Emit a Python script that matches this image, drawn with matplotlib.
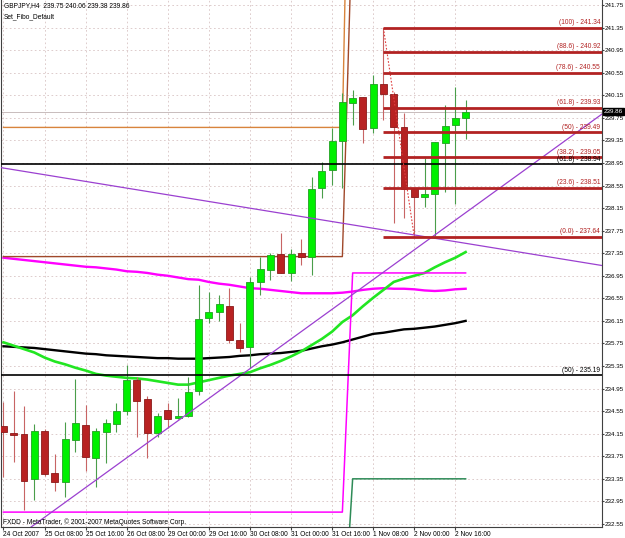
import numpy as np
import matplotlib.pyplot as plt
from matplotlib.patches import Rectangle
import matplotlib.transforms as mtransforms

plt.rcParams['font.family'] = ['Liberation Sans', 'DejaVu Sans']
plt.rcParams['font.size'] = 4.8

# GBPJPY H4 bars, 24 Oct - 2 Nov 2007
opens = [234.29, 234.16, 234.15, 233.35, 234.20, 233.45, 233.29, 234.04, 234.30, 233.72,
         234.18, 234.32, 234.55, 235.10, 234.77, 234.16, 234.57, 234.43, 234.46, 234.91,
         236.20, 236.31, 236.41, 235.81, 235.69, 236.84, 237.05, 237.34, 237.00, 237.35,
         237.28, 238.51, 238.83, 239.34, 240.01, 240.12, 239.57, 240.35, 240.17, 239.59,
         238.49, 238.35, 238.40, 239.30, 239.62, 239.75]
highs = [234.71, 234.91, 234.64, 234.32, 234.23, 233.79, 234.36, 235.12, 234.66, 234.25,
         234.41, 234.70, 235.37, 235.16, 234.82, 234.52, 234.70, 234.78, 235.16, 236.79,
         236.66, 236.61, 236.73, 236.11, 236.93, 237.28, 237.35, 237.71, 237.43, 237.60,
         238.70, 238.97, 239.57, 240.19, 240.24, 240.12, 240.51, 241.34, 240.20, 239.84,
         238.49, 239.04, 239.32, 239.98, 240.30, 240.06]
lows = [233.38, 233.65, 232.80, 232.98, 233.40, 233.13, 233.03, 233.83, 233.49, 233.21,
        233.63, 234.18, 234.48, 234.09, 233.72, 234.09, 234.25, 234.41, 234.45, 234.84,
        236.11, 236.15, 235.76, 235.60, 235.32, 236.61, 236.88, 237.00, 236.86, 237.14,
        236.96, 238.33, 238.56, 238.51, 239.62, 239.30, 239.48, 239.71, 237.89, 237.97,
        237.64, 238.17, 237.66, 238.44, 238.22, 239.38]
closes = [234.18, 234.13, 233.31, 234.20, 233.44, 233.29, 234.06, 234.34, 233.74, 234.20,
          234.34, 234.55, 235.10, 234.73, 234.16, 234.46, 234.41, 234.46, 234.89, 236.18,
          236.31, 236.45, 235.81, 235.67, 236.84, 237.07, 237.32, 237.00, 237.34, 237.28,
          238.49, 238.81, 239.34, 240.03, 240.10, 239.55, 240.35, 240.17, 239.59, 238.49,
          238.35, 238.40, 239.32, 239.61, 239.75, 239.86]

# moving averages
ma_green = [235.77, 235.71, 235.65, 235.59, 235.50, 235.43, 235.38, 235.32, 235.27, 235.21,
            235.18, 235.16, 235.14, 235.13, 235.11, 235.08, 235.05, 235.02, 235.02, 235.06,
            235.10, 235.14, 235.18, 235.21, 235.24, 235.31, 235.37, 235.44, 235.52, 235.61,
            235.72, 235.83, 235.96, 236.13, 236.25, 236.41, 236.56, 236.70, 236.84, 236.90,
            236.95, 237.00, 237.10, 237.19, 237.27, 237.37]
ma_black = [235.70, 235.69, 235.68, 235.67, 235.65, 235.63, 235.61, 235.59, 235.57, 235.56,
            235.54, 235.53, 235.52, 235.51, 235.50, 235.49, 235.49, 235.48, 235.48, 235.48,
            235.49, 235.50, 235.51, 235.53, 235.54, 235.56, 235.57, 235.58, 235.60, 235.62,
            235.66, 235.70, 235.73, 235.77, 235.82, 235.87, 235.92, 235.94, 235.97, 236.00,
            236.01, 236.03, 236.05, 236.08, 236.11, 236.15]
ma_magenta = [237.27, 237.25, 237.23, 237.21, 237.19, 237.17, 237.15, 237.13, 237.11, 237.10,
              237.08, 237.06, 237.03, 237.02, 237.00, 236.97, 236.95, 236.92, 236.89, 236.88,
              236.84, 236.81, 236.79, 236.76, 236.73, 236.72, 236.70, 236.68, 236.66, 236.64,
              236.64, 236.64, 236.64, 236.65, 236.67, 236.70, 236.72, 236.73, 236.72, 236.72,
              236.71, 236.69, 236.68, 236.69, 236.71, 236.72]

# step indicators (value changes after bar 33)
step_orange = [239.58] * 34 + [248.60] * 12
step_brown = [237.29] * 34 + [243.45] * 12
step_magenta = [232.76] * 34 + [237.00] * 12
step_green = [np.nan] * 33 + [230.40] + [233.35] * 12

time_labels = ["24 Oct 2007", "25 Oct 08:00", "25 Oct 16:00", "26 Oct 08:00", "29 Oct 00:00",
               "29 Oct 16:00", "30 Oct 08:00", "31 Oct 00:00", "31 Oct 16:00", "1 Nov 08:00",
               "2 Nov 00:00", "2 Nov 16:00"]
time_label_bars = [0, 4, 8, 12, 16, 20, 24, 28, 32, 36, 40, 44]

price_ticks = [241.75, 241.35, 240.95, 240.55, 240.15, 239.75, 239.35, 238.95, 238.55, 238.15,
               237.75, 237.35, 236.95, 236.55, 236.15, 235.75, 235.35, 234.95, 234.55, 234.15,
               233.75, 233.35, 232.95, 232.55]

fibo_levels = ["100", "88.6", "78.6", "61.8", "50", "38.2", "23.6", "0.0"]
fibo_prices = [241.34, 240.92, 240.55, 239.93, 239.49, 239.05, 238.51, 237.64]
fibo_high_bar = 37
fibo_low_bar = 40

fibo2_levels = ["61.8", "50"]
fibo2_prices = [238.94, 235.19]

trend_down = [(0, 238.86), (58, 237.14)]
trend_up = [(5, 232.80), (58, 239.78)]

bid = 239.86

fig = plt.figure(figsize=(6.25, 5.38), dpi=100)
ax = fig.add_axes([1 / 625, 11 / 538, 601 / 625, 527 / 538])
ax.set_xlim(-0.24, 58.28)
ax.set_ylim(232.496, 241.839)

bars = np.arange(len(opens))

# indicators
ax.plot(bars, ma_magenta, color='#ff00ff', lw=1.7, zorder=2)
ax.plot(bars, ma_black, color='black', lw=1.7, zorder=2)
ax.plot(bars, ma_green, color='#22e622', lw=1.9, zorder=2)
ax.plot(bars, step_orange, color='#d8843c', lw=1.0, zorder=2)
ax.plot(bars, step_brown, color='#a0482a', lw=1.0, zorder=2)
ax.plot(bars, step_magenta, color='#ff00ff', lw=1.1, zorder=2)
ax.plot(bars, step_green, color='#2e8b57', lw=1.1, zorder=2)

# candles
for i in bars:
    o, h, l, c = opens[i], highs[i], lows[i], closes[i]
    if c >= o:
        face, edge, wick = '#00f000', '#22a022', '#4a9e4a'
    else:
        face, edge, wick = '#b82222', '#8a1a1a', '#c86464'
    ax.vlines(i, l, h, color=wick, lw=0.8, zorder=3)
    ax.add_patch(Rectangle((i - 0.34, min(o, c)), 0.68, max(abs(c - o), 0.012),
                           facecolor=face, edgecolor=edge, lw=0.6, zorder=4))

# objects
ax.axhline(bid, color='#c8bcbc', lw=0.7, zorder=1.5)
ax.axline(trend_down[0], trend_down[1], color='#9b40d0', lw=0.9, zorder=5)
ax.axline(trend_up[0], trend_up[1], color='#9b40d0', lw=0.9, zorder=5)

lbl_tr = mtransforms.blended_transform_factory(ax.transAxes, ax.transData)
for lev, p in zip(fibo2_levels, fibo2_prices):
    ax.axhline(p, color='black', lw=1.2, zorder=5)
    ax.text(0.997, p + 0.015, f"({lev}) - {p:.2f}", transform=lbl_tr,
            ha='right', va='bottom', color='black', zorder=7)

ax.plot([fibo_high_bar, fibo_low_bar], [fibo_prices[0], fibo_prices[-1]],
        color='#e04040', lw=0.8, ls=(0, (1.5, 1.5)), zorder=5)
for lev, p in zip(fibo_levels, fibo_prices):
    ax.hlines(p, fibo_high_bar, 58.28, color='#b22222', lw=2.0, zorder=5)
    ax.text(0.997, p + 0.03, f"({lev}) - {p:.2f}", transform=lbl_tr,
            ha='right', va='bottom', color='#b22222', zorder=7)

# axes styling
ax.set_facecolor('white')
ax.set_xticks(time_label_bars)
ax.set_xticklabels(time_labels, ha='left')
ax.set_yticks(price_ticks)
ax.set_yticklabels([f"{p:.2f}" for p in price_ticks], fontsize=4.5)
ax.yaxis.tick_right()
ax.tick_params(axis='x', length=2, pad=0.8, color='#404040')
ax.tick_params(axis='y', length=1.5, pad=0.6, color='#404040')
ax.grid(True, color='#d8c4c4', lw=0.6, ls=(0, (2, 3)), zorder=0)
ax.set_axisbelow(True)
for side in ['left', 'right', 'bottom']:
    ax.spines[side].set_color('#404040')
    ax.spines[side].set_linewidth(0.8)
ax.spines['top'].set_visible(False)

ax.text(1.003, bid, f"{bid:.2f}", transform=lbl_tr, ha='left', va='center', fontsize=4.5,
        color='white', bbox=dict(boxstyle='square,pad=0.15', fc='black', ec='black'),
        clip_on=False, zorder=8)

ax.text(0.005, 0.996, "GBPJPY,H4  239.75 240.06 239.38 239.86", transform=ax.transAxes,
        ha='left', va='top', zorder=8)
ax.text(0.005, 0.974, "Set_Fibo_Default", transform=ax.transAxes,
        ha='left', va='top', zorder=8)
ax.text(0.003, 0.01, "FXDD - MetaTrader, \u00a9 2001-2007 MetaQuotes Software Corp.",
        transform=ax.transAxes, ha='left', va='center', zorder=8)

fig.savefig("out.png", dpi=100, facecolor='white')
